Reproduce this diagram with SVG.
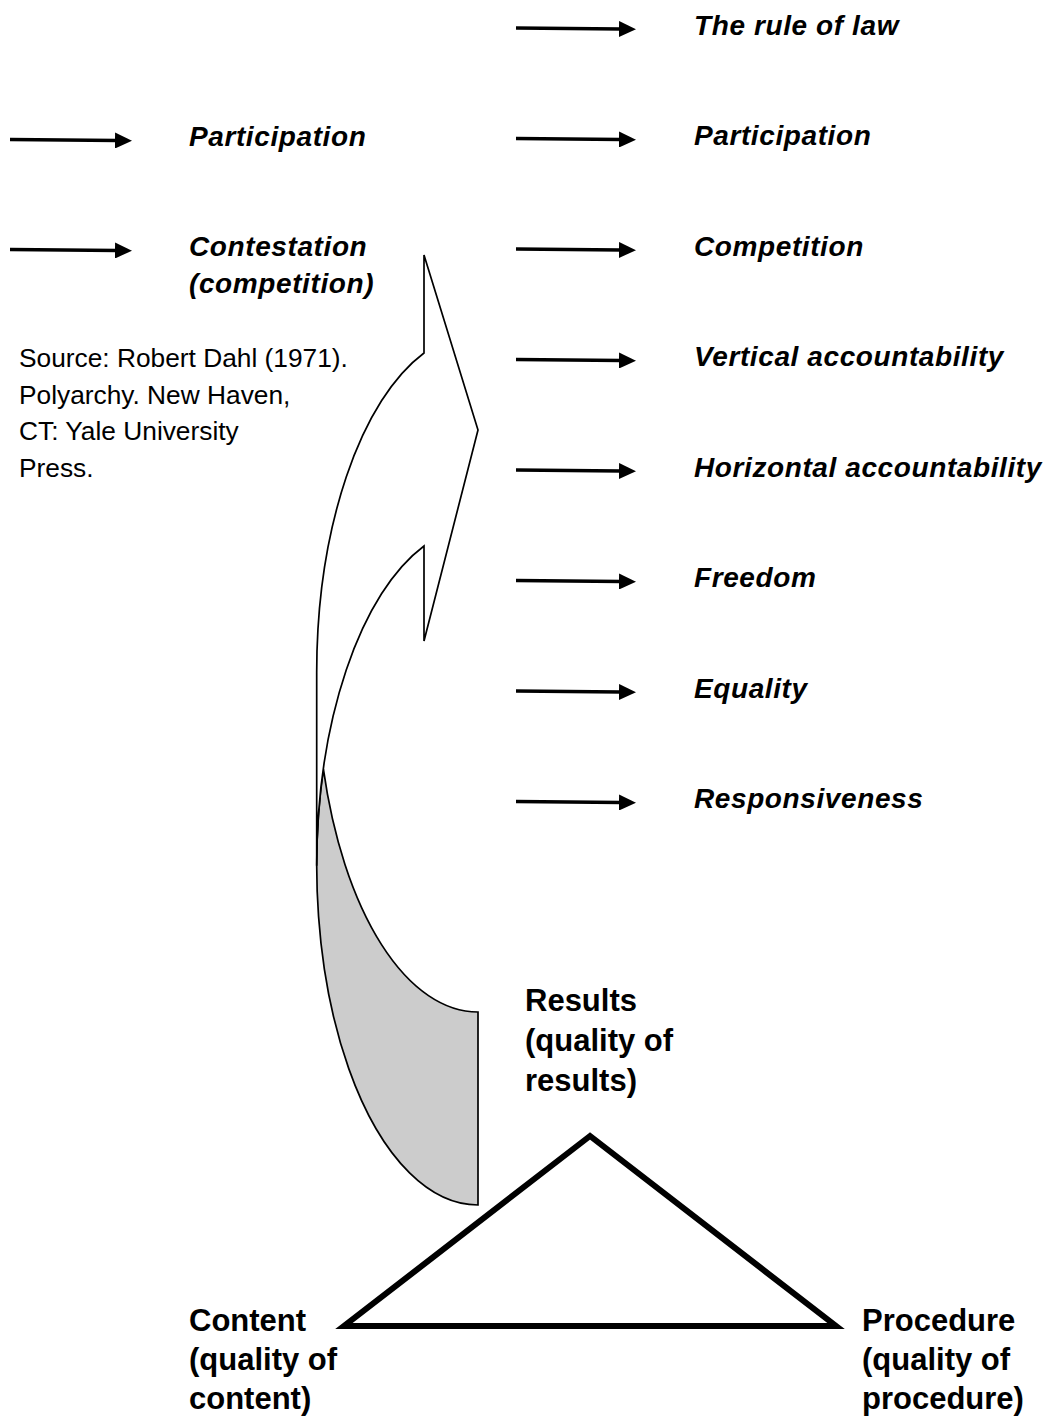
<svg xmlns="http://www.w3.org/2000/svg" width="1050" height="1418" viewBox="0 0 1050 1418">
  <style>
    .bi { font-family: "Liberation Sans", Arial, sans-serif; font-size: 28px; font-weight: bold; font-style: italic; letter-spacing: 0.6px; fill: #000; }
    .b { font-family: "Liberation Sans", Arial, sans-serif; font-size: 31px; font-weight: bold; fill: #000; }
    .r { font-family: "Liberation Sans", Arial, sans-serif; font-size: 26.3px; fill: #000; }
    .conn { stroke: #000; stroke-width: 3.4; fill: none; marker-end: url(#ah); }
    .shape { stroke: #000; stroke-width: 1.7; stroke-linejoin: miter; }
  </style>
  <defs>
    <marker id="ah" viewBox="0 0 17 16" refX="2" refY="8" markerWidth="17" markerHeight="16" markerUnits="userSpaceOnUse" orient="auto">
      <path d="M0,0 L17,8 L0,16 Z" fill="#000"/>
    </marker>
  </defs>
  <rect width="1050" height="1418" fill="#fff"/>

  <g id="connectors">
    <line class="conn" x1="10" y1="139.5" x2="117" y2="140.5"/>
    <line class="conn" x1="10" y1="249.5" x2="117" y2="250.5"/>
    <line class="conn" x1="516" y1="28" x2="621" y2="29"/>
    <line class="conn" x1="516" y1="138.5" x2="621" y2="139.5"/>
    <line class="conn" x1="516" y1="249" x2="621" y2="250"/>
    <line class="conn" x1="516" y1="359.5" x2="621" y2="360.5"/>
    <line class="conn" x1="516" y1="470" x2="621" y2="471"/>
    <line class="conn" x1="516" y1="580.5" x2="621" y2="581.5"/>
    <line class="conn" x1="516" y1="691" x2="621" y2="692"/>
    <line class="conn" x1="516" y1="801.5" x2="621" y2="802.5"/>
  </g>

  <g id="curved-arrow">
    <path class="shape" fill="#cccccc" d="M478,1012 A161.3,339.3 0 0 1 323.4,769.2 A161.3,339.3 0 0 0 478,1205 Z"/>
    <path class="shape" fill="#ffffff" d="M424,353 A161.3,339.3 0 0 0 316.7,672.7 L316.7,865.7 A161.3,339.3 0 0 1 424,546 L424,641 L478,430 L424,255 Z"/>
  </g>

  <g id="triangle">
    <polygon points="590,1136 344,1326 836,1326" fill="#fff" stroke="#000" stroke-width="6" stroke-linejoin="miter" stroke-miterlimit="10"/>
  </g>

  <g id="dahl-participation"><text class="bi" x="189" y="146">Participation</text></g>
  <g id="dahl-contestation"><text class="bi" x="189" y="256">Contestation</text><text class="bi" x="189" y="293">(competition)</text></g>

  <g id="source">
    <text class="r" x="19" y="367">Source: Robert Dahl (1971).</text>
    <text class="r" x="19" y="403.5">Polyarchy. New Haven,</text>
    <text class="r" x="19" y="440">CT: Yale University</text>
    <text class="r" x="19" y="476.5">Press.</text>
  </g>

  <g id="rule-of-law"><text class="bi" x="694" y="34.5">The rule of law</text></g>
  <g id="participation"><text class="bi" x="694" y="145">Participation</text></g>
  <g id="competition"><text class="bi" x="694" y="255.5">Competition</text></g>
  <g id="vertical-accountability"><text class="bi" x="694" y="366">Vertical accountability</text></g>
  <g id="horizontal-accountability"><text class="bi" x="694" y="476.5">Horizontal accountability</text></g>
  <g id="freedom"><text class="bi" x="694" y="587">Freedom</text></g>
  <g id="equality"><text class="bi" x="694" y="697.5">Equality</text></g>
  <g id="responsiveness"><text class="bi" x="694" y="808">Responsiveness</text></g>

  <g id="results">
    <text class="b" x="525" y="1011">Results</text>
    <text class="b" x="525" y="1051">(quality of</text>
    <text class="b" x="525" y="1091">results)</text>
  </g>
  <g id="content">
    <text class="b" x="189" y="1331">Content</text>
    <text class="b" x="189" y="1370">(quality of</text>
    <text class="b" x="189" y="1409">content)</text>
  </g>
  <g id="procedure">
    <text class="b" x="862" y="1331">Procedure</text>
    <text class="b" x="862" y="1370">(quality of</text>
    <text class="b" x="862" y="1409">procedure)</text>
  </g>
</svg>
